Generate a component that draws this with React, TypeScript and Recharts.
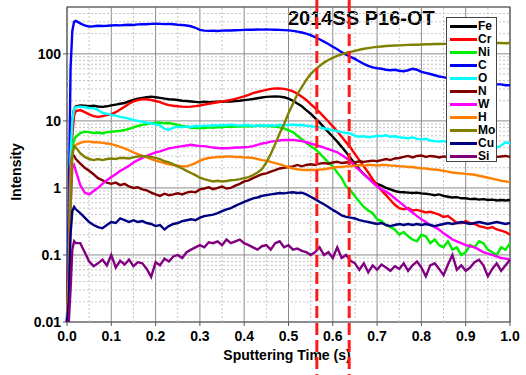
import {
  CartesianGrid,
  Customized,
  Legend,
  Line,
  LineChart,
  ReferenceArea,
  ReferenceLine,
  XAxis,
  YAxis,
} from 'recharts'

const FONT = '"Liberation Sans", Arial, sans-serif'

// sputtering time (s); denser sampling over the first 20 ms where signals rise
const TIME = [
  0, 0.004, 0.008, 0.012, 0.016, 0.02,
  0.03, 0.04, 0.05, 0.06, 0.07, 0.08, 0.09,
  0.1, 0.11, 0.12, 0.13, 0.14, 0.15, 0.16, 0.17, 0.18, 0.19,
  0.2, 0.21, 0.22, 0.23, 0.24, 0.25, 0.26, 0.27, 0.28, 0.29,
  0.3, 0.31, 0.32, 0.33, 0.34, 0.35, 0.36, 0.37, 0.38, 0.39,
  0.4, 0.41, 0.42, 0.43, 0.44, 0.45, 0.46, 0.47, 0.48, 0.49,
  0.5, 0.51, 0.52, 0.53, 0.54, 0.55, 0.56, 0.57, 0.58, 0.59,
  0.6, 0.61, 0.62, 0.63, 0.64, 0.65, 0.66, 0.67, 0.68, 0.69,
  0.7, 0.71, 0.72, 0.73, 0.74, 0.75, 0.76, 0.77, 0.78, 0.79,
  0.8, 0.81, 0.82, 0.83, 0.84, 0.85, 0.86, 0.87, 0.88, 0.89,
  0.9, 0.91, 0.92, 0.93, 0.94, 0.95, 0.96, 0.97, 0.98, 0.99,
  1.0,
]

const FE = [
  0.01, 0.05, 2, 10, 15, 16.5,
  17, 16.8, 16.5, 16.8, 16.4, 16.2, 16.5,
  17, 17.5, 18, 18.5, 19.5, 20.5, 21.5, 22, 22.5, 23,
  22.5, 22, 21.5, 21, 20.8, 20.5, 20, 19.8, 19.5, 19.2,
  19, 19.3, 19, 19.2, 19.4, 19.3, 19.6, 19.5, 19.8, 20,
  20.4, 20.8, 21.2, 21.8, 22.3, 22.8, 23, 23.2, 23, 22.5,
  21.5, 20, 18.2, 16.5, 14.5, 12.8, 11, 9.5, 8, 6.8,
  5.8, 4.9, 4.1, 3.4, 2.8, 2.3, 1.9, 1.6, 1.4, 1.25,
  1.15, 1.08, 1.0, 0.95, 0.9, 0.87, 0.86, 0.85, 0.84, 0.85,
  0.83, 0.82, 0.8, 0.78, 0.8, 0.76, 0.74, 0.72, 0.73, 0.7,
  0.7, 0.68, 0.69, 0.67, 0.68, 0.66, 0.67, 0.65, 0.66, 0.65,
  0.66,
]

const CR = [
  0.01, 0.03, 0.8, 6, 12, 14,
  14.5, 13.5, 12.5, 11.8, 11.5, 11.8, 12.2,
  12.5, 13.5, 14.8, 16.2, 18, 19.5, 20.5, 21, 21, 20.5,
  19.8, 19, 18, 17.2, 16.8, 16.5, 16.3, 16.2, 16.3, 16.6,
  17, 17.5, 18, 18.5, 19, 19.5, 20, 20.5, 21.3, 22.2,
  23.2, 24.5, 26, 27, 28, 29, 30, 30.5, 30.5, 30,
  29, 27.5, 25.5, 23, 20.5, 17.8, 15.5, 13.5, 11.5, 9.8,
  8.3, 7, 5.8, 4.8, 4.0, 3.2, 2.6, 2.1, 1.7, 1.35,
  1.1, 0.92, 0.78, 0.66, 0.56, 0.5, 0.48, 0.5, 0.46, 0.47,
  0.45, 0.43, 0.44, 0.42, 0.4, 0.37, 0.38, 0.34, 0.3, 0.3,
  0.32, 0.3, 0.29, 0.27, 0.26, 0.25, 0.26, 0.24, 0.23, 0.22,
  0.2,
]

const NI = [
  0.01, 0.05, 1.5, 4, 5.2, 5.8,
  6.6, 6.9, 6.8, 6.6, 6.7, 6.5, 6.8,
  6.9, 7.0, 7.1, 7.3, 7.6, 8.0, 8.4, 8.7, 9.0, 9.2,
  9.4, 9.4, 9.2, 9.3, 9.0, 8.7, 8.4, 8.2, 7.9, 7.8,
  7.9, 7.8, 8.0, 7.9, 8.1, 8.0, 8.2, 8.1, 8.3, 8.2,
  8.3, 8.4, 8.3, 8.5, 8.4, 8.4, 8.3, 8.2, 8.0, 7.7,
  7.2, 6.8, 6.0, 5.3, 4.7, 4.2, 3.8, 3.3, 2.8, 2.4,
  2.1, 1.7, 1.4, 1.05, 0.92, 0.75, 0.62, 0.52, 0.46, 0.42,
  0.34, 0.32, 0.28, 0.26, 0.24, 0.2, 0.22, 0.19, 0.17, 0.16,
  0.2, 0.19, 0.15, 0.17, 0.14, 0.13, 0.16, 0.12, 0.13, 0.1,
  0.11, 0.14, 0.13, 0.16, 0.15, 0.12, 0.11, 0.1, 0.13, 0.12,
  0.15,
]

const C = [
  0.01, 0.5, 60, 220, 300, 310,
  285, 265, 255, 258, 262, 260, 262,
  265, 268, 266, 270, 272, 270, 275, 278, 276, 280,
  282, 280, 278, 280, 276, 272, 270, 265, 258, 245,
  228, 222, 220, 221, 219, 222, 224, 223, 225, 226,
  228, 230, 229, 231, 230, 232, 230, 229, 228, 226,
  224, 220, 215, 208, 200, 190, 178, 165, 152, 140,
  128, 117, 106, 97, 90, 84, 77, 71, 66, 63,
  61, 60, 58, 57, 58, 56, 55, 57, 60, 58,
  54, 52, 50, 48, 46, 45, 43, 42, 41, 40,
  40, 39, 38, 38, 37, 36, 36, 35, 35, 34,
  34,
]

const O = [
  0.01, 0.1, 3, 10, 15, 16,
  16.3, 16, 15.6, 15.5, 14.5, 13.2, 12.8,
  12.3, 12, 11.5, 11.2, 10.8, 10.3, 10, 9.7, 9.4, 9.2,
  8.9, 8.6, 7.6, 7.4, 7.9, 8.2, 8.0, 8.3, 8.1, 8.4,
  8.3, 8.5, 8.4, 8.6, 8.5, 8.7, 8.6, 8.8, 8.6, 8.5,
  8.7, 8.6, 8.4, 8.5, 8.6, 8.4, 8.6, 8.5, 8.7, 8.6,
  8.7, 8.8, 8.6, 8.7, 8.5, 8.3, 8.2, 8.0, 7.7, 7.5,
  7.3, 7.0, 6.8, 6.6, 6.5, 6.0, 5.8, 5.9, 5.7, 5.8,
  6.0, 5.9, 6.1, 5.8, 5.9, 5.7, 5.6, 5.5, 5.7, 5.4,
  5.3, 5.4, 5.1, 5.0, 4.9, 5.0, 4.8, 4.9, 4.9, 5.0,
  5.1, 5.2, 4.9, 4.7, 4.5, 4.3, 4.1, 4.0, 4.3, 4.8,
  4.6,
]

const N = [
  0.01, 0.1, 2.0, 3.2, 3.0, 2.7,
  2.3, 2.0, 1.8, 1.6, 1.4, 1.3, 1.2,
  1.15, 1.2, 1.1, 1.15, 1.05, 1.0, 1.02, 0.95, 0.92, 0.85,
  0.8, 0.76, 0.82, 0.78, 0.8, 0.83, 0.8, 0.85, 0.88, 0.86,
  0.95, 0.98, 1.02, 0.96, 1.0, 1.05, 0.98, 1.0, 1.08, 1.15,
  1.25, 1.3, 1.4, 1.5, 1.6, 1.65, 1.75, 1.85, 1.95, 2.0,
  2.05, 2.1, 2.2, 2.1, 2.2, 2.25, 2.2, 2.3, 2.35, 2.3,
  2.4, 2.45, 2.35, 2.4, 2.45, 2.4, 2.5, 2.45, 2.5, 2.55,
  2.5, 2.6, 2.7, 2.6, 2.75, 2.8, 2.9, 3.0, 2.85, 3.0,
  3.05, 2.9, 3.0, 2.95, 2.85, 2.95, 2.9, 2.8, 2.9, 2.85,
  2.95, 2.8, 2.75, 2.85, 2.9, 2.8, 2.85, 2.9, 2.95, 3.0,
  2.9,
]

const W = [
  0.01, 0.03, 0.5, 2.0, 2.2, 1.8,
  1.1, 0.85, 0.8, 0.9, 1.0, 1.15, 1.3,
  1.45, 1.6, 1.8, 1.95, 2.15, 2.4, 2.6, 2.8, 3.0, 3.2,
  3.4, 3.5, 3.7, 3.9, 4.0, 4.1, 4.2, 4.3, 4.4, 4.3,
  4.2, 4.2, 4.1, 4.0, 3.95, 3.9, 3.9, 3.95, 4.0, 4.0,
  4.05, 4.1, 4.2, 4.4, 4.6, 4.7, 4.9, 5.0, 5.1, 5.2,
  5.2, 5.2, 5.1, 5.0, 4.8, 4.6, 4.4, 4.2, 4.0, 3.8,
  3.6, 3.4, 3.1, 2.8, 2.5, 2.1, 1.85, 1.6, 1.4, 1.2,
  1.05, 0.95, 0.88, 0.8, 0.7, 0.62, 0.55, 0.48, 0.43, 0.38,
  0.34, 0.31, 0.28, 0.26, 0.24, 0.21, 0.19, 0.17, 0.16, 0.15,
  0.14, 0.135, 0.13, 0.12, 0.11, 0.105, 0.1, 0.095, 0.09, 0.088,
  0.085,
]

const H = [
  0.01, 0.05, 1.5, 3.5, 4.1, 4.4,
  4.7, 4.9, 4.9, 4.8, 4.8, 4.7, 4.6,
  4.5, 4.3, 4.1, 3.9, 3.65, 3.4, 3.2, 3.0, 2.85, 2.7,
  2.55, 2.45, 2.35, 2.25, 2.2, 2.15, 2.1, 2.1, 2.2, 2.35,
  2.55, 2.7, 2.8, 2.85, 2.9, 2.9, 2.95, 2.95, 2.9, 2.9,
  2.85, 2.85, 2.8, 2.7, 2.6, 2.55, 2.45, 2.35, 2.25, 2.15,
  2.05, 1.95, 1.9, 1.86, 1.85, 1.86, 1.85, 1.88, 1.9, 1.95,
  2.0, 2.05, 2.05, 2.1, 2.1, 2.15, 2.2, 2.15, 2.2, 2.2,
  2.15, 2.2, 2.2, 2.15, 2.15, 2.1, 2.1, 2.05, 2.05, 2.0,
  1.97, 1.95, 1.9, 1.88, 1.85, 1.8, 1.75, 1.7, 1.67, 1.65,
  1.62, 1.6, 1.57, 1.52, 1.47, 1.42, 1.38, 1.33, 1.28, 1.25,
  1.22,
]

const MO = [
  0.01, 0.02, 0.5, 3, 4.2, 4.0,
  3.3, 2.9, 2.7, 2.6, 2.7, 2.6, 2.7,
  2.75, 2.7, 2.8, 2.8, 2.75, 2.85, 2.95, 3.0, 2.95, 2.9,
  2.8, 2.7, 2.5, 2.4, 2.25, 2.1, 1.95, 1.8, 1.67, 1.55,
  1.42, 1.35, 1.3, 1.25, 1.28, 1.25, 1.27, 1.3, 1.32, 1.35,
  1.4, 1.45, 1.55, 1.7, 1.9, 2.4, 3.2, 4.5, 6.5, 9,
  13, 18, 25, 32, 41, 50, 58, 66, 74, 81,
  87, 93, 98, 103, 107, 111, 115, 119, 122, 125,
  127, 129, 131, 132, 133, 134, 135, 136, 137, 137,
  138, 139, 139, 140, 140, 141, 141, 142, 142, 143,
  143, 143, 144, 144, 144, 145, 145, 145, 145, 144,
  145,
]

const CU = [
  0.01, 0.02, 0.2, 0.45, 0.52, 0.48,
  0.42, 0.36, 0.31, 0.28, 0.26, 0.25, 0.28,
  0.31, 0.3, 0.35, 0.33, 0.31, 0.33, 0.31, 0.32, 0.3, 0.29,
  0.27, 0.28, 0.24, 0.27, 0.29, 0.3, 0.32, 0.33, 0.34, 0.33,
  0.36, 0.38, 0.39, 0.4, 0.42, 0.45, 0.48, 0.5, 0.54, 0.58,
  0.62, 0.66, 0.7, 0.72, 0.76, 0.78, 0.8, 0.82, 0.84, 0.83,
  0.85, 0.86, 0.84, 0.85, 0.8, 0.74, 0.68, 0.62, 0.57, 0.52,
  0.47, 0.43, 0.39, 0.37, 0.36, 0.35, 0.33, 0.32, 0.31, 0.3,
  0.29, 0.3, 0.28, 0.27, 0.28, 0.29, 0.28, 0.29, 0.28, 0.29,
  0.28, 0.29, 0.28, 0.27, 0.28, 0.29, 0.3, 0.29, 0.3, 0.31,
  0.3, 0.29, 0.3, 0.31, 0.3, 0.29, 0.3, 0.31, 0.3, 0.29,
  0.3,
]

const SI = [
  0.01, 0.01, 0.03, 0.12, 0.16, 0.15,
  0.15, 0.11, 0.08, 0.068, 0.075, 0.085, 0.07,
  0.1, 0.065, 0.082, 0.072, 0.085, 0.068, 0.078, 0.075, 0.062, 0.047,
  0.078, 0.07, 0.088, 0.08, 0.095, 0.1, 0.09, 0.11, 0.12, 0.13,
  0.14, 0.13, 0.155, 0.15, 0.16, 0.14, 0.17, 0.15, 0.16, 0.17,
  0.15, 0.14, 0.13, 0.12, 0.135, 0.14, 0.12, 0.15, 0.16, 0.13,
  0.14, 0.12, 0.125, 0.115, 0.11, 0.1, 0.11, 0.13, 0.1, 0.11,
  0.09, 0.13, 0.09, 0.1, 0.082, 0.075, 0.06, 0.075, 0.055, 0.07,
  0.06, 0.072, 0.065, 0.058, 0.068, 0.062, 0.075, 0.058, 0.07, 0.08,
  0.065, 0.048, 0.07, 0.075, 0.062, 0.05, 0.072, 0.1, 0.06, 0.07,
  0.058, 0.065, 0.078, 0.085, 0.07, 0.048, 0.062, 0.075, 0.058, 0.07,
  0.085,
]

const SERIES = [
  { key: 'Fe', color: '#000000', values: FE },
  { key: 'Cr', color: '#ff0000', values: CR },
  { key: 'Ni', color: '#00ee00', values: NI },
  { key: 'C', color: '#0000ff', values: C },
  { key: 'O', color: '#00ffff', values: O },
  { key: 'N', color: '#800000', values: N },
  { key: 'W', color: '#ff00ff', values: W },
  { key: 'H', color: '#ff8000', values: H },
  { key: 'Mo', color: '#808000', values: MO },
  { key: 'Cu', color: '#000080', values: CU },
  { key: 'Si', color: '#800080', values: SI },
]

const X_TICKS = [0, 0.1, 0.2, 0.3, 0.4, 0.5, 0.6, 0.7, 0.8, 0.9, 1.0]
const Y_TICKS = [0.01, 0.1, 1, 10, 100]
const Y_MAX = 500

// interface boundaries marked on the profile
const MARKERS = [0.564, 0.637]

// minor grid: 0.05 s steps and 2..9 within each decade
const MINOR_X = X_TICKS.slice(0, -1).map((t) => +(t + 0.05).toFixed(2))
const MINOR_Y = Y_TICKS.flatMap((d) =>
  [2, 3, 4, 5, 6, 7, 8, 9].map((m) => +(d * m).toPrecision(2)),
).filter((v) => v < Y_MAX)

const rows = TIME.map((t, i) => {
  const row: Record<string, number> = { t }
  SERIES.forEach((s) => {
    row[s.key] = s.values[i]
  })
  return row
})

function ElementLegend() {
  return (
    <div
      style={{
        boxSizing: 'border-box',
        width: 51,
        height: 145,
        border: '1px solid #444',
        background: '#fff',
        paddingTop: 2,
        fontFamily: FONT,
        fontWeight: 'bold',
        fontSize: 12,
      }}
    >
      {SERIES.map((s) => (
        <div key={s.key} style={{ display: 'flex', alignItems: 'center', height: 13 }}>
          <div style={{ marginLeft: 3, width: 27, height: 3, background: s.color }} />
          <span style={{ marginLeft: 1, lineHeight: '13px', color: '#000' }}>{s.key}</span>
        </div>
      ))}
    </div>
  )
}

function Labels() {
  return (
    <g fontFamily={FONT} fontWeight="bold" fill="#000">
      <text x={288} y={25} fontSize={20}>
        2014SS P16-OT
      </text>
      <text x={287} y={360} fontSize={14} textAnchor="middle">
        Sputtering Time (s)
      </text>
      <text transform="translate(21,172) rotate(-90)" fontSize={14} textAnchor="middle">
        Intensity
      </text>
    </g>
  )
}

const tickStyle = { fill: '#000', fontSize: 14, fontWeight: 'bold', fontFamily: FONT }

export default function App() {
  return (
    <div style={{ position: 'absolute', left: 0, top: 0, width: 526, height: 375, background: '#fff' }}>
      <LineChart
        width={526}
        height={375}
        data={rows}
        margin={{ top: 7, right: 16, bottom: 23, left: 22 }}
      >
        <CartesianGrid stroke="#8c8c8c" strokeWidth={1} />
        {MINOR_X.map((x) => (
          <ReferenceLine key={`mx${x}`} x={x} stroke="#c4c4c4" strokeDasharray="2 2" />
        ))}
        {MINOR_Y.map((y) => (
          <ReferenceLine key={`my${y}`} y={y} stroke="#c4c4c4" strokeDasharray="2 2" />
        ))}
        <ReferenceArea x1={0} x2={1} y1={0.01} y2={Y_MAX} fill="none" stroke="#555" strokeWidth={1.2} />
        <XAxis
          dataKey="t"
          type="number"
          domain={[0, 1]}
          ticks={X_TICKS}
          height={30}
          axisLine={false}
          tickSize={4}
          tickMargin={5}
          tickLine={{ stroke: '#555' }}
          tick={tickStyle}
          tickFormatter={(v: number) => v.toFixed(1)}
        />
        <YAxis
          type="number"
          scale="log"
          domain={[0.01, Y_MAX]}
          allowDataOverflow
          ticks={Y_TICKS}
          width={45}
          axisLine={false}
          tickSize={4}
          tickMargin={2}
          tickLine={{ stroke: '#555' }}
          tick={tickStyle}
          tickFormatter={(v: number) => String(v)}
        />
        {SERIES.map((s) => (
          <Line
            key={s.key}
            dataKey={s.key}
            type="linear"
            stroke={s.color}
            strokeWidth={2.4}
            dot={false}
            activeDot={false}
            isAnimationActive={false}
          />
        ))}
        <Customized component={Labels} />
        {MARKERS.map((m) => (
          <ReferenceLine
            key={`mk${m}`}
            x={m}
            shape={(p: any) => (
              <line
                x1={p.x1}
                x2={p.x2}
                y1={0}
                y2={375}
                stroke="#ff1a1a"
                strokeWidth={3}
                strokeDasharray="12 5"
              />
            )}
          />
        ))}
        <Legend
          layout="vertical"
          align="center"
          verticalAlign="middle"
          wrapperStyle={{ left: 446, top: 17, width: 51, height: 145 }}
          content={() => <ElementLegend />}
        />
      </LineChart>
    </div>
  )
}
